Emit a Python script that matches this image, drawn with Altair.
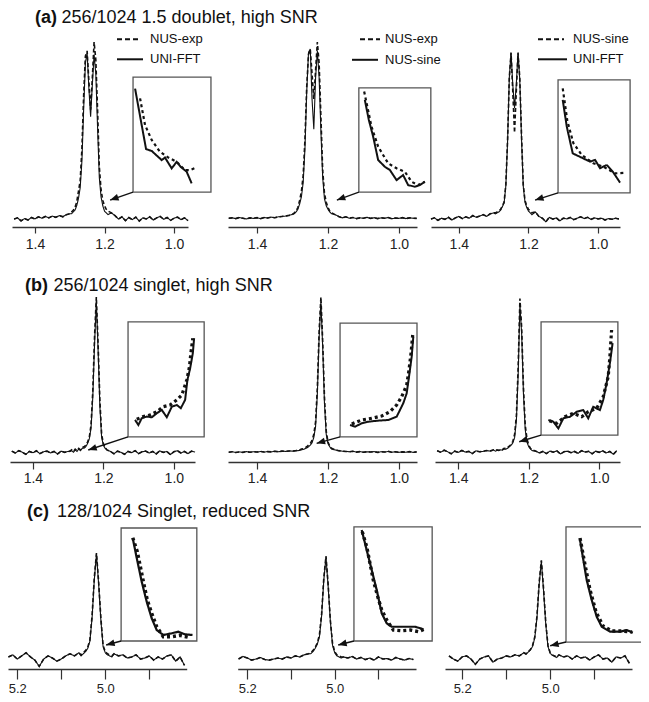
import math
import altair as alt
import pandas as pd

FONT = "Liberation Sans"
INK = "#111111"
FRAME = "#555555"
W, H = 633, 686

# ---------------- chemical-shift grids (ppm) ----------------
AB_LEFT = [1.48, 1.47, 1.46, 1.45, 1.44, 1.43, 1.42, 1.41, 1.40, 1.39, 1.38, 1.37, 1.36, 1.35, 1.34, 1.33, 1.32, 1.31, 1.30]
AB_PEAK = [1.295, 1.29, 1.285, 1.28, 1.275, 1.27, 1.265, 1.26, 1.255, 1.25, 1.245, 1.24, 1.235, 1.23, 1.225, 1.22, 1.215, 1.21, 1.205, 1.20, 1.195, 1.19]
AB_TAIL = [1.18, 1.17, 1.16, 1.15, 1.14, 1.13, 1.12, 1.11, 1.10, 1.09, 1.08, 1.07, 1.06, 1.05, 1.04, 1.03, 1.02, 1.01, 1.00, 0.99, 0.98, 0.97, 0.96, 0.95, 0.94]
C_LEFT = [5.24, 5.23, 5.22, 5.21, 5.20, 5.19, 5.18, 5.17, 5.16, 5.15, 5.14, 5.13, 5.12, 5.11, 5.10, 5.09, 5.08, 5.07, 5.06]
C_PEAK = [5.055, 5.05, 5.045, 5.04, 5.035, 5.03, 5.025, 5.02, 5.015, 5.01, 5.005, 5.00, 4.995, 4.99, 4.985]
C_TAIL = [4.98, 4.97, 4.96, 4.95, 4.94, 4.93, 4.92, 4.91, 4.90, 4.89, 4.88, 4.87, 4.86, 4.85, 4.84, 4.83, 4.82, 4.81, 4.80]

# ---------------- row (a): 1.5 doublet ----------------
a1_left = [0.010, 0.015, 0.005, 0.012, -0.005, 0.008, 0.000, 0.014, 0.006, 0.018, 0.010, 0.020, 0.012, 0.022, 0.015, 0.025, 0.018, 0.030, 0.035]
a1_dash = [0.045, 0.055, 0.07, 0.10, 0.16, 0.22, 0.40, 0.70, 0.92, 0.95, 0.78, 0.62, 0.80, 1.0, 0.90, 0.62, 0.30, 0.17, 0.11, 0.08, 0.06, 0.05]
a1_solid = [0.035, 0.045, 0.055, 0.08, 0.12, 0.18, 0.33, 0.62, 0.88, 0.94, 0.74, 0.58, 0.76, 0.93, 0.82, 0.52, 0.24, 0.13, 0.08, 0.05, 0.04, 0.03]
a1_tail = [0.04, 0.025, 0.005, 0.018, -0.004, 0.014, 0.002, 0.016, -0.006, 0.012, 0.006, 0.018, 0.000, 0.012, 0.020, 0.004, 0.014, -0.002, 0.010, 0.016, 0.002, 0.012, -0.004, 0.010, 0.006]

a2_left = [0.010, 0.012, 0.008, 0.014, 0.010, 0.006, 0.012, 0.009, 0.013, 0.008, 0.014, 0.011, 0.016, 0.013, 0.018, 0.020, 0.022, 0.026, 0.032]
a2_dash = [0.04, 0.05, 0.07, 0.11, 0.16, 0.25, 0.45, 0.75, 0.93, 0.96, 0.82, 0.68, 0.84, 1.0, 0.88, 0.58, 0.28, 0.15, 0.10, 0.07, 0.05, 0.04]
a2_solid = [0.035, 0.045, 0.06, 0.09, 0.13, 0.21, 0.40, 0.72, 0.94, 0.96, 0.68, 0.51, 0.80, 0.95, 0.80, 0.50, 0.24, 0.12, 0.08, 0.06, 0.045, 0.035]
a2_tail = [0.03, 0.02, 0.012, 0.018, 0.010, 0.014, 0.008, 0.012, 0.010, 0.015, 0.009, 0.013, 0.008, 0.012, 0.010, 0.014, 0.007, 0.011, 0.009, 0.013, 0.008, 0.012, 0.010, 0.009, 0.011]

a3_left = [0.005, 0.012, -0.002, 0.010, 0.004, 0.015, 0.000, 0.012, 0.020, 0.008, 0.018, 0.010, 0.025, 0.015, 0.022, 0.030, 0.020, 0.035, 0.040]
a3_dash = [0.04, 0.045, 0.05, 0.06, 0.08, 0.10, 0.20, 0.45, 0.80, 0.94, 0.72, 0.49, 0.72, 0.94, 0.80, 0.48, 0.20, 0.11, 0.08, 0.06, 0.05, 0.04]
a3_solid = [0.035, 0.04, 0.045, 0.055, 0.075, 0.095, 0.19, 0.44, 0.80, 0.94, 0.76, 0.63, 0.76, 0.94, 0.79, 0.46, 0.19, 0.10, 0.07, 0.05, 0.04, 0.03]
a3_tail = [0.045, 0.02, 0.010, -0.01, 0.015, 0.005, 0.012, -0.005, 0.010, 0.006, 0.014, 0.002, 0.010, 0.018, 0.008, 0.015, 0.004, 0.012, 0.006, 0.010, 0.000, 0.008, 0.004, 0.010, 0.006]

# ---------------- row (b): singlet, high SNR ----------------
b1_left = [0.010, -0.005, 0.012, 0.000, 0.015, 0.005, -0.008, 0.010, 0.002, 0.014, -0.004, 0.008, 0.012, 0.000, 0.010, -0.006, 0.012, 0.004, 0.010]
b1_dash = [0.012, 0.020, 0.010, 0.025, 0.015, 0.030, 0.020, 0.035, 0.040, 0.050, 0.070, 0.100, 0.180, 0.400, 0.750, 1.000, 0.700, 0.340, 0.120, 0.060, 0.035, 0.020]
b1_solid = [0.010, 0.015, 0.005, 0.020, 0.010, 0.025, 0.015, 0.030, 0.030, 0.040, 0.060, 0.090, 0.160, 0.360, 0.700, 0.970, 0.660, 0.300, 0.100, 0.050, 0.030, 0.020]
b1_tail = [0.010, -0.005, 0.012, 0.004, -0.008, 0.010, 0.002, 0.015, -0.004, 0.008, 0.012, 0.000, 0.010, -0.006, 0.014, 0.004, 0.010, -0.010, 0.008, 0.015, 0.000, 0.010, -0.004, 0.012, 0.006]

b2_left = [0.005, 0.008, 0.003, 0.007, 0.004, 0.009, 0.005, 0.008, 0.006, 0.010, 0.006, 0.009, 0.007, 0.011, 0.008, 0.012, 0.010, 0.013, 0.012]
b2_dash = [0.014, 0.016, 0.020, 0.020, 0.025, 0.028, 0.032, 0.040, 0.050, 0.060, 0.080, 0.120, 0.200, 0.420, 0.780, 1.000, 0.720, 0.360, 0.140, 0.070, 0.045, 0.030]
b2_solid = [0.012, 0.013, 0.015, 0.017, 0.020, 0.023, 0.027, 0.032, 0.040, 0.050, 0.065, 0.100, 0.170, 0.380, 0.740, 0.970, 0.680, 0.320, 0.120, 0.060, 0.040, 0.025]
b2_tail = [0.020, 0.015, 0.012, 0.010, 0.008, 0.011, 0.006, 0.009, 0.005, 0.008, 0.006, 0.009, 0.004, 0.008, 0.006, 0.010, 0.005, 0.008, 0.004, 0.007, 0.005, 0.009, 0.004, 0.007, 0.006]

b3_left = [0.012, 0.000, 0.015, 0.005, 0.018, 0.008, -0.005, 0.012, 0.004, 0.016, 0.006, 0.010, -0.004, 0.014, 0.008, 0.010, 0.016, 0.012, 0.020]
b3_dash = [0.015, 0.020, 0.018, 0.025, 0.022, 0.030, 0.028, 0.035, 0.045, 0.055, 0.075, 0.120, 0.240, 0.550, 0.990, 0.800, 0.420, 0.180, 0.090, 0.050, 0.030, 0.020]
b3_solid = [0.012, 0.016, 0.015, 0.020, 0.018, 0.025, 0.024, 0.030, 0.040, 0.050, 0.065, 0.100, 0.210, 0.500, 0.950, 0.760, 0.380, 0.150, 0.070, 0.040, 0.025, 0.015]
b3_tail = [0.012, 0.000, 0.010, -0.004, 0.012, 0.005, 0.014, -0.006, 0.008, 0.012, 0.002, 0.010, -0.002, 0.015, 0.006, 0.010, -0.005, 0.012, 0.004, 0.014, 0.000, 0.010, -0.008, 0.015, 0.005]

# ---------------- row (c): singlet, reduced SNR ----------------
c1_left = [0.02, 0.04, 0.01, 0.03, -0.01, 0.02, 0.05, 0.01, -0.02, -0.08, -0.01, 0.02, 0.00, -0.03, -0.01, 0.02, 0.04, 0.02, 0.05]
c1_dash = [0.03, 0.05, 0.07, 0.10, 0.17, 0.40, 0.76, 1.00, 0.72, 0.38, 0.12, 0.06, 0.04, 0.03, 0.02]
c1_solid = [0.02, 0.04, 0.06, 0.09, 0.16, 0.38, 0.74, 0.99, 0.70, 0.36, 0.11, 0.05, 0.03, 0.02, 0.01]
c1_tail = [0.04, 0.02, 0.03, 0.00, 0.01, 0.03, -0.01, 0.00, 0.02, -0.02, 0.01, -0.01, 0.02, 0.03, -0.03, 0.01, -0.07, 0.02, 0.00]

c2_left = [0.00, 0.01, -0.01, 0.015, 0.00, -0.02, -0.01, 0.005, -0.015, -0.02, -0.01, 0.00, -0.01, 0.01, 0.00, 0.02, 0.01, 0.03, 0.04]
c2_dash = [0.05, 0.07, 0.10, 0.14, 0.22, 0.42, 0.76, 0.97, 0.70, 0.36, 0.14, 0.06, 0.03, 0.02, 0.01]
c2_solid = [0.04, 0.06, 0.09, 0.13, 0.20, 0.40, 0.74, 0.96, 0.68, 0.35, 0.12, 0.05, 0.02, 0.01, 0.00]
c2_tail = [0.01, 0.00, 0.015, -0.01, 0.005, -0.015, 0.00, -0.02, 0.01, -0.01, -0.005, -0.02, 0.005, -0.01, -0.02, -0.005, -0.015, 0.00, -0.01]

c3_left = [0.01, 0.02, -0.01, -0.03, 0.01, 0.02, -0.01, -0.06, -0.01, 0.01, 0.02, -0.04, -0.01, 0.00, 0.02, 0.01, 0.03, 0.02, 0.05]
c3_dash = [0.04, 0.06, 0.08, 0.12, 0.20, 0.40, 0.72, 0.93, 0.66, 0.34, 0.12, 0.05, 0.03, 0.02, 0.01]
c3_solid = [0.035, 0.055, 0.075, 0.11, 0.19, 0.38, 0.70, 0.92, 0.64, 0.32, 0.11, 0.045, 0.025, 0.015, 0.005]
c3_tail = [0.03, 0.01, 0.02, -0.01, 0.02, 0.00, 0.01, -0.02, 0.01, 0.03, -0.01, 0.00, -0.04, 0.01, 0.00, 0.02, -0.05, 0.01, -0.03]

# ---------------- insets (fraction of inset frame) ----------------
a1_ins_sx = [0.026, 0.167, 0.24, 0.368, 0.41, 0.496, 0.56, 0.61, 0.688, 0.752]
a1_ins_sy = [0.90, 0.374, 0.357, 0.278, 0.30, 0.206, 0.263, 0.22, 0.177, 0.076]
a1_ins_dx = [0.09, 0.154, 0.24, 0.346, 0.453, 0.56, 0.667, 0.727, 0.817]
a1_ins_dy = [0.815, 0.583, 0.452, 0.35, 0.30, 0.263, 0.19, 0.19, 0.215]
a2_ins_sx = [0.083, 0.139, 0.199, 0.268, 0.361, 0.431, 0.524, 0.615, 0.685, 0.778, 0.847, 0.917]
a2_ins_sy = [0.885, 0.692, 0.532, 0.308, 0.243, 0.212, 0.115, 0.163, 0.067, 0.051, 0.067, 0.099]
a2_ins_dx = [0.074, 0.176, 0.268, 0.407, 0.524, 0.639, 0.732, 0.824, 0.917]
a2_ins_dy = [0.965, 0.628, 0.436, 0.276, 0.228, 0.195, 0.099, 0.067, 0.099]
a3_ins_sx = [0.065, 0.121, 0.204, 0.329, 0.444, 0.514, 0.583, 0.676, 0.76, 0.861]
a3_ins_sy = [0.823, 0.587, 0.35, 0.312, 0.277, 0.292, 0.219, 0.248, 0.188, 0.091]
a3_ins_dx = [0.065, 0.129, 0.213, 0.329, 0.49, 0.629, 0.792, 0.931]
a3_ins_dy = [0.925, 0.637, 0.44, 0.336, 0.262, 0.232, 0.173, 0.178]
b1_ins_sx = [0.092, 0.136, 0.18, 0.246, 0.312, 0.378, 0.443, 0.509, 0.575, 0.641, 0.693, 0.75, 0.78, 0.816, 0.851, 0.868]
b1_ins_sy = [0.148, 0.104, 0.163, 0.177, 0.171, 0.206, 0.235, 0.171, 0.263, 0.278, 0.25, 0.322, 0.496, 0.597, 0.728, 0.858]
b1_ins_dx = [0.114, 0.201, 0.289, 0.378, 0.464, 0.553, 0.641, 0.707, 0.772, 0.807, 0.825, 0.851]
b1_ins_dy = [0.154, 0.177, 0.191, 0.22, 0.263, 0.278, 0.322, 0.365, 0.496, 0.611, 0.728, 0.858]
b2_ins_sx = [0.13, 0.195, 0.282, 0.368, 0.497, 0.627, 0.736, 0.822, 0.866, 0.896, 0.931, 0.952]
b2_ins_sy = [0.105, 0.09, 0.12, 0.134, 0.143, 0.149, 0.178, 0.296, 0.383, 0.529, 0.704, 0.88]
b2_ins_dx = [0.152, 0.282, 0.412, 0.542, 0.649, 0.736, 0.801, 0.866, 0.896, 0.922, 0.944]
b2_ins_dy = [0.114, 0.149, 0.164, 0.184, 0.222, 0.281, 0.354, 0.456, 0.588, 0.734, 0.895]
b3_ins_sx = [0.095, 0.16, 0.225, 0.29, 0.377, 0.464, 0.549, 0.614, 0.679, 0.766, 0.809, 0.853, 0.896, 0.931]
b3_ins_sy = [0.133, 0.118, 0.059, 0.148, 0.162, 0.206, 0.221, 0.148, 0.25, 0.221, 0.31, 0.458, 0.635, 0.812]
b3_ins_dx = [0.108, 0.204, 0.312, 0.419, 0.529, 0.614, 0.723, 0.809, 0.874, 0.896, 0.918]
b3_ins_dy = [0.127, 0.104, 0.162, 0.192, 0.162, 0.206, 0.236, 0.339, 0.516, 0.693, 0.929]
c1_ins_sx = [0.154, 0.207, 0.272, 0.338, 0.404, 0.47, 0.557, 0.667, 0.754, 0.842, 0.943]
c1_ins_sy = [0.909, 0.732, 0.525, 0.348, 0.201, 0.097, 0.053, 0.068, 0.082, 0.059, 0.053]
c1_ins_dx = [0.154, 0.214, 0.259, 0.303, 0.346, 0.404, 0.47, 0.557, 0.667, 0.776, 0.886]
c1_ins_dy = [0.914, 0.79, 0.643, 0.496, 0.363, 0.245, 0.127, 0.038, 0.038, 0.05, 0.033]
c2_ins_sx = [0.099, 0.163, 0.227, 0.291, 0.355, 0.419, 0.483, 0.612, 0.782, 0.888]
c2_ins_sy = [0.974, 0.798, 0.623, 0.447, 0.243, 0.155, 0.125, 0.125, 0.125, 0.103]
c2_ins_dx = [0.106, 0.163, 0.205, 0.247, 0.304, 0.355, 0.419, 0.504, 0.612, 0.718, 0.824, 0.901]
c2_ins_dy = [0.959, 0.827, 0.682, 0.535, 0.389, 0.272, 0.184, 0.096, 0.09, 0.096, 0.082, 0.103]
c3_ins_sx = [0.184, 0.228, 0.272, 0.338, 0.404, 0.47, 0.579, 0.711, 0.799, 0.878]
c3_ins_sy = [0.887, 0.713, 0.539, 0.365, 0.22, 0.133, 0.09, 0.09, 0.104, 0.081]
c3_ins_dx = [0.184, 0.25, 0.316, 0.395, 0.487, 0.605, 0.737, 0.868]
c3_ins_dy = [0.904, 0.67, 0.452, 0.26, 0.139, 0.096, 0.096, 0.087]

# inset frames in spectrum units: [ppm left, ppm right, intensity bottom, intensity top]
BOXES = {
    "a1": [1.118, 0.894, 0.157, 0.803], "a2": [1.113, 0.910, 0.157, 0.742], "a3": [1.115, 0.908, 0.152, 0.787],
    "b1": [1.130, 0.914, 0.103, 0.840], "b2": [1.166, 0.949, 0.103, 0.833], "b3": [1.165, 0.947, 0.115, 0.840],
    "c1": [4.964, 4.792, 0.162, 1.238], "c2": [4.956, 4.777, 0.162, 1.248], "c3": [4.964, 4.791, 0.152, 1.248],
}
# arrow tips (ppm, intensity)
HEADS = {
    "a1": [1.184, 0.112], "a2": [1.175, 0.112], "a3": [1.181, 0.112],
    "b1": [1.243, 0.019], "b2": [1.232, 0.062], "b3": [1.227, 0.072],
    "c1": [4.998, 0.124], "c2": [4.992, 0.124], "c3": [5.000, 0.117],
}

TITLES = {"a": ("(a)", "256/1024 1.5 doublet, high SNR"),
          "b": ("(b)", "256/1024 singlet, high SNR"),
          "c": ("(c)", "128/1024 Singlet, reduced SNR")}
LEGENDS = {"a1": ["NUS-exp", "UNI-FFT"], "a2": ["NUS-exp", "NUS-sine"], "a3": ["NUS-sine", "UNI-FFT"]}

# ---------------- layout ----------------
ROWS = {
    "a": dict(grid=(AB_LEFT, AB_PEAK, AB_TAIL), Y0=212, Y1=34, off=-467, ticks=[1.4, 1.2, 1.0], tick=6, lpad=4, lfs=14,
              hide=False, ins_dash=[3, 3], ins_dw=2.2, ins_sw=2.0, title_xy=(27, 53.5, 14.6)),
    "b": dict(grid=(AB_LEFT, AB_PEAK, AB_TAIL), Y0=445, Y1=289, off=-232, ticks=[1.4, 1.2, 1.0], tick=7, lpad=2, lfs=14,
              hide=False, ins_dash=[3, 3], ins_dw=3.2, ins_sw=2.0, title_xy=(17, 45.5, 282.7)),
    "c": dict(grid=(C_LEFT, C_PEAK, C_TAIL), Y0=650, Y1=545, off=-25, ticks=[5.2, 5.1, 5.0, 4.9], tick=10, lpad=3, lfs=13,
              hide=True, ins_dash=[3, 3], ins_dw=3.4, ins_sw=2.2, title_xy=(19, 49, 508.7)),
}

PANELS = [
    dict(key="a1", row="a", L=4, R=180, xl=1.466, xr=0.96, data=(a1_left, a1_dash, a1_solid, a1_tail), ins=(a1_ins_sx, a1_ins_sy, a1_ins_dx, a1_ins_dy)),
    dict(key="a2", row="a", L=220, R=409, xl=1.482, xr=0.949, data=(a2_left, a2_dash, a2_solid, a2_tail), ins=(a2_ins_sx, a2_ins_sy, a2_ins_dx, a2_ins_dy)),
    dict(key="a3", row="a", L=423, R=612, xl=1.48, xr=0.937, data=(a3_left, a3_dash, a3_solid, a3_tail), ins=(a3_ins_sx, a3_ins_sy, a3_ins_dx, a3_ins_dy)),
    dict(key="b1", row="b", L=2, R=187, xl=1.465, xr=0.94, data=(b1_left, b1_dash, b1_solid, b1_tail), ins=(b1_ins_sx, b1_ins_sy, b1_ins_dx, b1_ins_dy)),
    dict(key="b2", row="b", L=220, R=409, xl=1.482, xr=0.949, data=(b2_left, b2_dash, b2_solid, b2_tail), ins=(b2_ins_sx, b2_ins_sy, b2_ins_dx, b2_ins_dy)),
    dict(key="b3", row="b", L=427, R=612, xl=1.466, xr=0.941, data=(b3_left, b3_dash, b3_solid, b3_tail), ins=(b3_ins_sx, b3_ins_sy, b3_ins_dx, b3_ins_dy)),
    dict(key="c1", row="c", L=0, R=178.7, xl=5.221, xr=4.815, data=(c1_left, c1_dash, c1_solid, c1_tail), ins=(c1_ins_sx, c1_ins_sy, c1_ins_dx, c1_ins_dy)),
    dict(key="c2", row="c", L=229.7, R=408, xl=5.222, xr=4.814, data=(c2_left, c2_dash, c2_solid, c2_tail), ins=(c2_ins_sx, c2_ins_sy, c2_ins_dx, c2_ins_dy)),
    dict(key="c3", row="c", L=437, R=624, xl=5.239, xr=4.814, data=(c3_left, c3_dash, c3_solid, c3_tail), ins=(c3_ins_sx, c3_ins_sy, c3_ins_dx, c3_ins_dy)),
]

# legend sample positions (pixels): dashed x0,x1,y ; solid x0,x1,y ; text x
LEGEND_POS = {
    "a1": ((109, 130, 31.3), (109, 135, 51.3), 142),
    "a2": ((352, 372, 31.3), (344, 370, 51.8), 377),
    "a3": ((530, 556, 31.3), (530, 559, 51.3), 565),
}

SERIES = ["s1_solid", "s2_dash"]


def to_px(p, row, ppm, inten):
    x = p["L"] + (p["xl"] - ppm) / (p["xl"] - p["xr"]) * (p["R"] - p["L"])
    y = row["Y0"] + inten * (row["Y1"] - row["Y0"])
    return x, y


def make_axis(row):
    kw = dict(orient="bottom", offset=row["off"], values=row["ticks"], tickSize=row["tick"],
              labelPadding=row["lpad"], labelFontSize=row["lfs"], labelFont=FONT, labelColor="#222222",
              tickColor="#333333", domainColor="#333333", tickWidth=1.2, domainWidth=1.3, grid=False,
              title=None, labelFlush=False, labelOverlap=False, format=".1f")
    if row["hide"]:
        kw["labelExpr"] = "(abs(datum.value-5.1)<0.01 || abs(datum.value-4.9)<0.01) ? '' : datum.label"
    return alt.Axis(**kw)


layers = []
for p in PANELS:
    row = ROWS[p["row"]]
    g = row["grid"]
    xs_all = g[0] + g[1] + g[2]
    left, dpk, spk, tail = p["data"]
    recs = []
    for name, peak in (("s1_solid", spk), ("s2_dash", dpk)):
        ys_all = left + peak + tail
        for x, y in zip(xs_all, ys_all):
            if p["xr"] - 1e-6 <= x <= p["xl"] + 1e-6:
                recs.append({"ppm": x, "I": y, "s": name})
    df = pd.DataFrame(recs)

    xs = alt.Scale(domain=[p["xl"], p["xr"]], range=[p["L"], p["R"]], nice=False, zero=False)
    ys = alt.Scale(domain=[0, 1], range=[row["Y0"], row["Y1"]], nice=False, zero=False)
    ax = make_axis(row)

    lines = alt.Chart(df).mark_line(color=INK).encode(
        x=alt.X("ppm:Q", scale=xs, axis=ax),
        y=alt.Y("I:Q", scale=ys, axis=None),
        strokeDash=alt.StrokeDash("s:N", scale=alt.Scale(domain=SERIES, range=[[1, 0], [4, 2.5]]), legend=None),
        strokeWidth=alt.StrokeWidth("s:N", scale=alt.Scale(domain=SERIES, range=[1.1, 1.6]), legend=None),
    )

    bl, br, bb, bt = BOXES[p["key"]]
    frame = alt.Chart(pd.DataFrame({"ppm": [bl], "x2": [br], "I": [bb], "y2": [bt]})).mark_rect(
        fillOpacity=0, stroke=FRAME, strokeWidth=1.3
    ).encode(x=alt.X("ppm:Q", scale=xs, axis=ax), x2="x2:Q", y=alt.Y("I:Q", scale=ys, axis=None), y2="y2:Q")

    hx, hy = HEADS[p["key"]]
    tpx, tpy = to_px(p, row, bl, bb)
    hpx, hpy = to_px(p, row, hx, hy)
    ang = math.degrees(math.atan2(hpy - tpy, hpx - tpx)) % 360
    adf = pd.DataFrame({"ppm": [bl], "I": [bb], "x2": [hx], "y2": [hy], "ang": [ang]})
    shaft = alt.Chart(adf).mark_rule(color=INK, strokeWidth=1.4).encode(
        x=alt.X("ppm:Q", scale=xs, axis=ax), y=alt.Y("I:Q", scale=ys, axis=None), x2="x2:Q", y2="y2:Q")
    hdf = pd.DataFrame({"ppm": [hx], "I": [hy], "ang": [ang]})
    head = alt.Chart(hdf).mark_point(shape="M0,0L-2,-0.8L-2,0.8Z", filled=True, size=72, color=INK,
                                     opacity=1, strokeWidth=0).encode(
        x=alt.X("ppm:Q", scale=xs, axis=ax), y=alt.Y("I:Q", scale=ys, axis=None),
        angle=alt.Angle("ang:Q", scale=None))

    layers.append(alt.layer(lines, frame, shaft, head))

    # inset
    ix0, iy0 = to_px(p, row, bl, bb)
    ix1, iy1 = to_px(p, row, br, bt)
    sx, sy, dx, dy = p["ins"]
    irecs = []
    for k, (a, b) in enumerate(zip(sx, sy)):
        irecs.append({"ix": a, "iy": b, "s": "s1_solid", "k": k})
    for k, (a, b) in enumerate(zip(dx, dy)):
        irecs.append({"ix": a, "iy": b, "s": "s2_dash", "k": k})
    idf = pd.DataFrame(irecs)
    inset = alt.Chart(idf).mark_line(color=INK).encode(
        x=alt.X("ix:Q", scale=alt.Scale(domain=[0, 1], range=[ix0, ix1], nice=False, zero=False), axis=None),
        y=alt.Y("iy:Q", scale=alt.Scale(domain=[0, 1], range=[iy0, iy1], nice=False, zero=False), axis=None),
        strokeDash=alt.StrokeDash("s:N", scale=alt.Scale(domain=SERIES, range=[[1, 0], row["ins_dash"]]), legend=None),
        strokeWidth=alt.StrokeWidth("s:N", scale=alt.Scale(domain=SERIES, range=[row["ins_sw"], row["ins_dw"]]), legend=None),
        order="k:Q",
    )
    layers.append(inset)

    # manual legend for row (a)
    if p["key"] in LEGENDS:
        labels = LEGENDS[p["key"]]
        (d0, d1, dyy), (s0, s1, syy), tx = LEGEND_POS[p["key"]]
        one = pd.DataFrame({"t": [0]})
        layers.append(alt.Chart(one).mark_rule(color=INK, strokeWidth=2, strokeDash=[5, 3]).encode(
            x=alt.value(d0), x2=alt.value(d1), y=alt.value(dyy)))
        layers.append(alt.Chart(one).mark_rule(color=INK, strokeWidth=2).encode(
            x=alt.value(s0), x2=alt.value(s1), y=alt.value(syy)))
        for lab, yy in ((labels[0], dyy), (labels[1], syy)):
            layers.append(alt.Chart(pd.DataFrame({"t": [lab]})).mark_text(
                font=FONT, fontSize=13, color=INK, align="left", baseline="middle").encode(
                text="t:N", x=alt.value(tx), y=alt.value(yy)))

# row titles
for r, (bold, rest) in TITLES.items():
    bx, rx, by = ROWS[r]["title_xy"]
    layers.append(alt.Chart(pd.DataFrame({"t": [bold]})).mark_text(
        font=FONT, fontSize=18, fontWeight="bold", color=INK, align="left", baseline="alphabetic").encode(
        text="t:N", x=alt.value(bx), y=alt.value(by)))
    layers.append(alt.Chart(pd.DataFrame({"t": [rest]})).mark_text(
        font=FONT, fontSize=18, color=INK, align="left", baseline="alphabetic").encode(
        text="t:N", x=alt.value(rx), y=alt.value(by)))

chart = alt.layer(*layers).resolve_scale(
    x="independent", y="independent", strokeDash="independent", strokeWidth="independent"
).resolve_axis(x="independent", y="independent").properties(
    width=W, height=H, padding=0, autosize=alt.AutoSizeParams(type="none")
).configure_view(stroke=None)

chart.save("out.html", embed_options={"renderer": "svg", "actions": False})
